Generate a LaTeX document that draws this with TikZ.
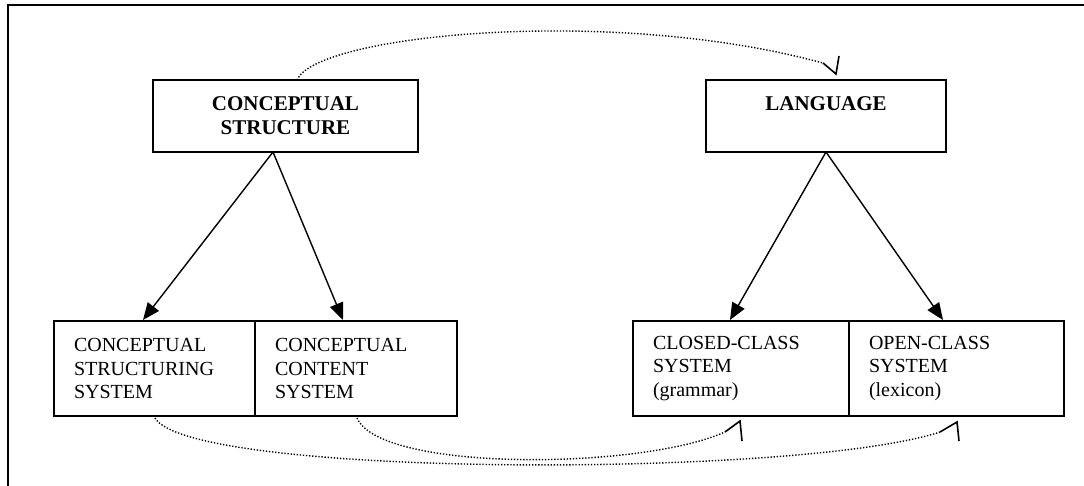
\documentclass[tikz,border=0pt]{standalone}
\usepackage{fontspec}
\setmainfont{Liberation Serif}
\usetikzlibrary{arrows.meta}
\begin{document}
\begin{tikzpicture}[x=1pt,y=-1pt,
  box/.style={draw=black,line width=1.5pt,rectangle,inner sep=0pt,font=\fontsize{20}{23.5}\selectfont},
  topbox/.style={box,minimum height=72pt,align=center,font=\fontsize{21}{24}\selectfont\bfseries},
  lowbox/.style={box,minimum height=95pt,align=left},
  arr/.style={line width=1.4pt,-{Triangle[length=17pt,width=14pt]}},
  dots/.style={line width=1.4pt,dash pattern=on 1.3pt off 1.8pt},
  head/.style={line width=1.6pt,line join=miter}]
\useasboundingbox (0,0) rectangle (1084,486);
% frame
\draw[line width=2pt] (7.5,486) -- (7.5,5.5) -- (1084,5.5);
% top boxes
\node[topbox,minimum width=265pt] (cs) at (285.5,116) {CONCEPTUAL\\STRUCTURE};
\node[topbox,minimum width=240pt] (lang) at (826,116) {LANGUAGE\\[1pt]~};
% bottom boxes
\node[lowbox,minimum width=201pt,text width=161pt] (css) at (154.5,368.5) {CONCEPTUAL\\STRUCTURING\\SYSTEM};
\node[lowbox,minimum width=202pt,text width=162pt] (ccs) at (356,368.5) {CONCEPTUAL\\CONTENT\\SYSTEM};
\node[lowbox,minimum width=216pt,text width=176pt] (clc) at (741,368.5) {CLOSED-CLASS\\SYSTEM\\(grammar)};
\node[lowbox,minimum width=215pt,text width=175pt] (ocs) at (956.5,368.5) {OPEN-CLASS\\SYSTEM\\(lexicon)};
% solid arrows
\coordinate (csA) at (273,152);
\coordinate (langA) at (826,152);
\coordinate (t1) at (143,320);
\coordinate (t2) at (343,320);
\coordinate (t3) at (730,320);
\coordinate (t4) at (943,320);
\draw[arr] (csA) -- (t1);
\draw[arr] (csA) -- (t2);
\draw[arr] (langA) -- (t3);
\draw[arr] (langA) -- (t4);
% dotted curves
\coordinate (s0) at (297,80);
\coordinate (e0) at (823,63);
\coordinate (p0) at (836,74);
\coordinate (q0) at (839,56);
\draw[dots] (s0) .. controls (315,35) and (610,5) .. (e0);
\draw[head] (e0) -- (p0) -- (q0);
\coordinate (s1) at (155,418);
\coordinate (e1) at (940,432);
\coordinate (p1) at (957,422);
\coordinate (q1) at (959,441);
\draw[dots] (s1) .. controls (190,478) and (800,478) .. (e1);
\draw[head] (e1) -- (p1) -- (q1);
\coordinate (s2) at (357,418);
\coordinate (e2) at (725,432);
\coordinate (p2) at (740,421);
\coordinate (q2) at (742,441);
\draw[dots] (s2) .. controls (380,472) and (640,470) .. (e2);
\draw[head] (e2) -- (p2) -- (q2);
\end{tikzpicture}
\end{document}
